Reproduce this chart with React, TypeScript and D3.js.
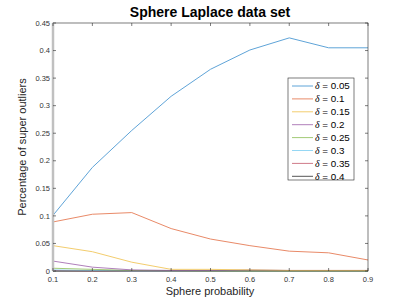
import { useEffect, useRef } from "react";
import * as d3 from "d3";

const probs = [0.1, 0.2, 0.3, 0.4, 0.5, 0.6, 0.7, 0.8, 0.9];
const deltas = ["0.05", "0.1", "0.15", "0.2", "0.25", "0.3", "0.35", "0.4"];
const colors = ["#5fa4d8", "#e98a68", "#f3cd6e", "#b07fbb", "#a3cb77", "#95d7f4", "#cf7a89", "#555555"];

const d005 = [0.101, 0.188, 0.255, 0.317, 0.366, 0.401, 0.423, 0.405, 0.405];
const d010 = [0.089, 0.103, 0.106, 0.077, 0.058, 0.046, 0.036, 0.033, 0.02];
const d015 = [0.046, 0.035, 0.016, 0.003, 0.003, 0.002, 0.001, 0.001, 0.001];
const d020 = [0.018, 0.007, 0.002, 0.001, 0.001, 0.002, 0.001, 0.001, 0.001];
const d025 = [0.005, 0.003, 0.001, 0.0005, 0, 0, 0, 0, 0];
const d030 = [0.002, 0.001, 0, 0, 0, 0, 0, 0, 0];
const d035 = [0.001, 0, 0, 0, 0, 0.001, 0, 0, 0];
const d040 = [0, 0, 0, 0, 0, 0, 0, 0, 0];
const series = [d005, d010, d015, d020, d025, d030, d035, d040];

const yTicks = [0, 0.05, 0.1, 0.15, 0.2, 0.25, 0.3, 0.35, 0.4, 0.45];

export default function App() {
  const ref = useRef<SVGSVGElement | null>(null);

  useEffect(() => {
    const svg = d3.select(ref.current);
    svg.selectAll("*").remove();

    const left = 53, right = 368, top = 23, bottom = 271;
    const x = d3.scaleLinear().domain([0.1, 0.9]).range([left, right]);
    const y = d3.scaleLinear().domain([0, 0.45]).range([bottom, top]);
    const font = "Helvetica, Arial, 'Liberation Sans', sans-serif";

    svg.append("rect").attr("width", 407).attr("height", 305).attr("fill", "#fff");

    const line = d3.line<number>().x((_, i) => x(probs[i])).y((d) => y(d));
    // draw last series first so the first ones sit on top
    series.slice().reverse().forEach((s, ri) => {
      const i = series.length - 1 - ri;
      svg.append("path").attr("d", line(s)).attr("fill", "none")
        .attr("stroke", colors[i]).attr("stroke-width", 1);
    });

    const axisColor = "#262626";
    const g = svg.append("g");
    g.append("rect").attr("x", left).attr("y", top).attr("width", right - left).attr("height", bottom - top)
      .attr("fill", "none").attr("stroke", axisColor).attr("stroke-width", 0.6);
    g.append("line").attr("x1", left).attr("x2", left).attr("y1", top).attr("y2", bottom)
      .attr("stroke", "#c0c0c0").attr("stroke-width", 2.5);

    probs.forEach((p) => {
      g.append("line").attr("x1", x(p)).attr("x2", x(p)).attr("y1", bottom).attr("y2", bottom - 3)
        .attr("stroke", axisColor).attr("stroke-width", 0.6);
      g.append("line").attr("x1", x(p)).attr("x2", x(p)).attr("y1", top).attr("y2", top + 3)
        .attr("stroke", axisColor).attr("stroke-width", 0.6);
      g.append("text").attr("x", x(p)).attr("y", bottom + 11).attr("text-anchor", "middle")
        .attr("font-family", font).attr("font-size", 7.5).attr("fill", "#333").text(String(p));
    });
    yTicks.forEach((t) => {
      g.append("line").attr("x1", left).attr("x2", left + 3).attr("y1", y(t)).attr("y2", y(t))
        .attr("stroke", axisColor).attr("stroke-width", 0.6);
      g.append("line").attr("x1", right).attr("x2", right - 3).attr("y1", y(t)).attr("y2", y(t))
        .attr("stroke", axisColor).attr("stroke-width", 0.6);
      g.append("text").attr("x", left - 3).attr("y", y(t) + 2.7).attr("text-anchor", "end")
        .attr("font-family", font).attr("font-size", 7.5).attr("fill", "#333").text(String(t));
    });

    svg.append("text").attr("x", 210).attr("y", 17).attr("text-anchor", "middle")
      .attr("font-family", font).attr("font-weight", "bold").attr("font-size", 14).attr("fill", "#000")
      .text("Sphere Laplace data set");
    svg.append("text").attr("x", 210).attr("y", 295).attr("text-anchor", "middle")
      .attr("font-family", font).attr("font-size", 11).attr("fill", "#262626").text("Sphere probability");
    svg.append("text").attr("transform", `translate(26,${(top + bottom) / 2}) rotate(-90)`)
      .attr("text-anchor", "middle").attr("font-family", font).attr("font-size", 11)
      .attr("fill", "#262626").text("Percentage of super outliers");

    // legend
    const lx = 288, ly = 78, lw = 66, lh = 102;
    const lg = svg.append("g");
    lg.append("rect").attr("x", lx).attr("y", ly).attr("width", lw).attr("height", lh)
      .attr("fill", "#fff").attr("stroke", "#262626").attr("stroke-width", 0.6);
    deltas.forEach((d, i) => {
      const yy = 86 + i * 12.9;
      lg.append("line").attr("x1", lx + 4).attr("x2", lx + 25).attr("y1", yy).attr("y2", yy)
        .attr("stroke", colors[i]).attr("stroke-width", 1);
      const t = lg.append("text").attr("x", lx + 27).attr("y", yy + 3.4)
        .attr("font-family", font).attr("font-size", 9.8).attr("fill", "#000");
      t.append("tspan").attr("font-style", "italic").attr("font-family", "'Liberation Serif', serif").text("δ");
      t.append("tspan").text(` = ${d}`);
    });
  }, []);

  return <svg ref={ref} width={407} height={305} style={{ display: "block", position: "absolute", left: 0, top: 0 }} />;
}
